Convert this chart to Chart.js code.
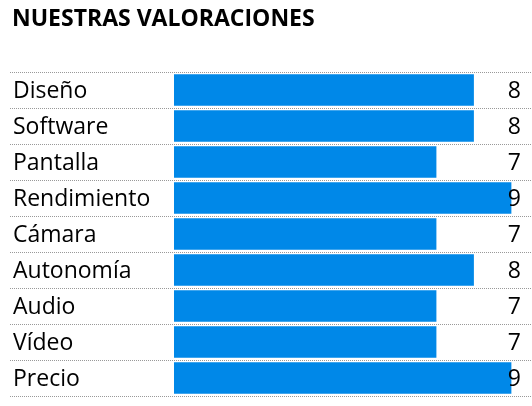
<!DOCTYPE html><html><head><meta charset="utf-8"><script src="https://cdn.jsdelivr.net/npm/chart.js@4"></script>
<style>html,body{margin:0;padding:0;background:#fff}#c{display:block}</style></head><body>
<div style="width:532px;height:406px"><canvas id="c"></canvas></div>
<script>
const categories=["Diseño","Software","Pantalla","Rendimiento","Cámara","Autonomía","Audio","Vídeo","Precio"];
const values=[8,8,7,9,7,8,7,7,9];
const title="NUESTRAS VALORACIONES";
const FONT='"Open Sans", "Noto Sans", sans-serif';
const deco={id:'deco',afterDatasetsDraw(ch){
 const c=ch.ctx,y=ch.scales.y,a=ch.chartArea;
 c.save();
 c.fillStyle='#000';c.font='bold 23px '+FONT;c.textBaseline='middle';c.textAlign='left';
 c.fillText(title,12,19);
 const h=(y.getPixelForValue(1)-y.getPixelForValue(0));
 c.strokeStyle='#999';c.lineWidth=1;c.setLineDash([1,1]);
 for(let i=0;i<=categories.length;i++){const py=Math.round(y.getPixelForValue(0)-h/2+i*h)+0.5;
  c.beginPath();c.moveTo(10,py);c.lineTo(532,py);c.stroke();}
 c.setLineDash([]);
 c.font='23px '+FONT;
 categories.forEach((t,i)=>{const py=y.getPixelForValue(i)+1;
  c.textAlign='left';c.fillText(t,13,py);
  c.textAlign='right';c.fillText(String(values[i]),521,py);});
 c.restore();}};
new Chart(document.getElementById('c'),{type:'bar',
 data:{labels:categories,datasets:[{data:values,backgroundColor:'#0088e8',borderWidth:0,barPercentage:0.88,categoryPercentage:1}]},
 options:{indexAxis:'y',responsive:true,maintainAspectRatio:false,animation:false,
  layout:{padding:{left:174,right:15,top:72,bottom:10}},
  plugins:{legend:{display:false},tooltip:{enabled:false}},
  scales:{x:{display:false,min:0,max:9.15},y:{display:false}}},
 plugins:[deco]});
</script></body></html>
